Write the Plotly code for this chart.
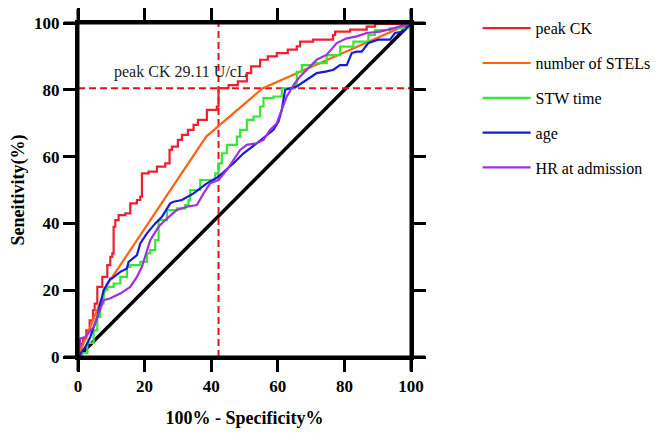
import plotly.graph_objects as go

# ---- data ----
red_x = [0, 0.5, 1, 1.5, 2.5, 3.5, 4.5, 5, 5.8, 7.3, 8.8, 9.7, 10.3, 10.7, 11.2, 12.2, 14.2, 15.7, 17.7, 18.7,
         19.2, 21.2, 23.7, 26.2, 27.5, 28.2, 30, 31.2, 33, 34.7, 36, 38.7, 41.7, 42.2, 45.2, 48, 50.7, 52, 54.7, 57,
         59.7, 63, 65.7, 66.7, 70.6, 76.6, 77.2, 81.7, 86.7, 89.2, 100]
red_y = [0, 2, 4, 5.6, 8, 11, 14, 16, 21, 24, 27.5, 30, 31, 39, 41, 42.5, 43, 46, 47, 48,
         55, 55.5, 57, 58, 62, 63, 65, 66.5, 68, 69.5, 71, 74, 75, 80.5, 81.4, 82.5, 85, 87, 89, 90,
         91, 92, 93, 94.4, 95, 96.4, 97.4, 98, 98.9, 99.7, 100]

orange_x = [0, 9, 38.5, 55.5, 100]
orange_y = [0, 22, 66, 80.5, 100]

green_x = [0, 1.3, 2.8, 4.7, 5.8, 6.7, 7.7, 8.8, 10.7, 12.7, 14.7, 15.7, 18.7, 20.7, 21.7, 23.2, 24.2, 26.7, 29.7, 32.2,
           33.2, 33.7, 36.7, 41.2, 42.2, 43.2, 44.7, 47.7, 48.7, 50.7, 52.7, 54.7, 55.7, 58.7, 61.2, 65.2, 65.7, 67.2,
           70.7, 74.7, 78.7, 82.7, 87.2, 89.2, 93.7, 99, 100]
green_y = [0, 1.2, 4.2, 8, 12, 16, 20, 21, 22, 24, 27, 27.5, 28.5, 31, 32, 35, 41, 44, 44.5, 45.5,
           47, 50, 53, 55, 58, 61, 63.5, 66, 68, 71, 72, 75, 77.5, 78, 80.4, 81.4, 85.4, 87.4,
           88, 90.4, 92.9, 94.4, 96.4, 97.9, 98.4, 99.4, 100]

blue_x = [0, 2.2, 3.7, 4.7, 5.8, 6.7, 7.7, 9.7, 10.2, 12.7, 14.7, 15.2, 17.7, 18.7, 20.7, 23.2, 25.2, 27.7, 28.7, 31.2,
          34.7, 38.7, 42.2, 46.7, 49.7, 53.7, 55.7, 58.7, 60.2, 61.2, 62.2, 65.7, 68.7, 71.7, 74.7, 76.7, 78.7, 80.7,
          82.2, 83.7, 85.2, 87.2, 90.2, 93.7, 95.2, 97.7, 100]
blue_y = [0, 3, 6, 9, 12, 16, 20, 23.5, 23.5, 25.5, 26.5, 28.5, 30.5, 34, 37, 40, 42, 46, 46.5, 47,
          49, 52, 54, 58, 61, 64, 65.5, 68, 70.5, 74, 80, 81, 83, 85, 85.5, 86, 87.4, 87.4,
          91, 91.4, 91.4, 94, 95, 95, 97, 97.4, 100]

purple_x = [0, 0.7, 2.2, 4.7, 6.2, 7.3, 7.7, 9.7, 12.7, 15.7, 17.7, 19.2, 21.7, 24.2, 26.2, 29.7, 32.7, 35.7, 37.7, 39.7,
            42.2, 44.7, 46.7, 48.7, 50.7, 53.7, 55.7, 57.7, 59.7, 61.2, 62.7, 64.7, 66.7, 68.7, 71.7, 74.7, 77.7, 80.7,
            83.7, 86.7, 90.7, 94.7, 100]
purple_y = [0, 5.6, 6, 9, 13, 16, 17, 17.6, 19, 21, 24, 27, 35, 39, 41, 44, 45, 45.5, 49, 52,
            53, 56, 59, 62, 63.5, 64, 65, 68, 70, 74, 78, 81.4, 84, 86, 89, 90.5, 94, 95.4,
            96, 97, 97.4, 98.4, 100]

ref_x = [0, 100]
ref_y = [0, 100]

cut_x = 42.2
cut_y = 80.5
cut_label = "peak CK 29.11 U/cL"

tick_vals = [0, 20, 40, 60, 80, 100]
tick_text = ["0", "20", "40", "60", "80", "100"]

SERIF = "Liberation Serif"

fig = go.Figure()

# reference diagonal
fig.add_trace(go.Scatter(x=ref_x, y=ref_y, mode="lines", line=dict(color="black", width=3.5),
                         showlegend=False, hoverinfo="skip"))

# cutoff lines
fig.add_trace(go.Scatter(x=[cut_x, cut_x], y=[0, 100], mode="lines",
                         line=dict(color="#E8101A", width=2, dash="7px,4px"), showlegend=False))
fig.add_trace(go.Scatter(x=[0, 100], y=[cut_y, cut_y], mode="lines",
                         line=dict(color="#E8101A", width=2, dash="7px,4px"), showlegend=False))

series = [
    ("peak CK", red_x, red_y, "#EE2030", "hv"),
    ("number of STELs", orange_x, orange_y, "#FF6410", "linear"),
    ("STW time", green_x, green_y, "#33E833", "hv"),
    ("age", blue_x, blue_y, "#1818E0", "linear"),
    ("HR at admission", purple_x, purple_y, "#A030E0", "linear"),
]
for i, (name, xs, ys, col, shape) in enumerate(series):
    fig.add_trace(go.Scatter(x=xs, y=ys, mode="lines", name=name, legendgroup=f"g{i}",
                             line=dict(color=col, width=2.2, shape=shape)))

fig.add_annotation(x=10.3, y=85.4, xref="x", yref="y", text=cut_label, showarrow=False,
                   xanchor="left", yanchor="middle", font=dict(family=SERIF, size=16, color="#222"))

# extended frame lines (GraphPad style overshoot)
ov = 0.042
for (x0, y0, x1, y1) in [(-ov, 0, 1 + ov, 0), (-ov, 1, 1 + ov, 1), (0, -ov, 0, 1 + ov), (1, -ov, 1, 1 + ov)]:
    fig.add_shape(type="line", xref="paper", yref="paper", x0=x0, y0=y0, x1=x1, y1=y1,
                  line=dict(color="black", width=3), layer="above")

axis_common = dict(range=[0, 100], tickvals=tick_vals, ticktext=tick_text, showgrid=False, zeroline=False,
                   showline=True, linecolor="black", linewidth=3, mirror="ticks", ticks="outside",
                   ticklen=12, tickwidth=3, tickcolor="black", automargin=False,
                   tickfont=dict(family=SERIF, size=17, color="black", weight="bold"))

fig.update_xaxes(**axis_common,
                 title=dict(text="100% - Specificity%", font=dict(family=SERIF, size=18, color="black", weight="bold"),
                            standoff=16))
fig.update_yaxes(**axis_common,
                 title=dict(text="Seneitivity(%)", font=dict(family=SERIF, size=18, color="black", weight="bold"),
                            standoff=6))

fig.update_layout(
    width=669, height=437,
    margin=dict(l=69.5, r=266, t=15, b=88, autoexpand=False),
    plot_bgcolor="white", paper_bgcolor="white",
    legend=dict(x=1.2, y=1.035, xanchor="left", yanchor="top", traceorder="grouped",
                tracegroupgap=11, itemwidth=48,
                font=dict(family=SERIF, size=16, color="black"), bgcolor="rgba(0,0,0,0)"),
)

fig.write_html("out.html")
